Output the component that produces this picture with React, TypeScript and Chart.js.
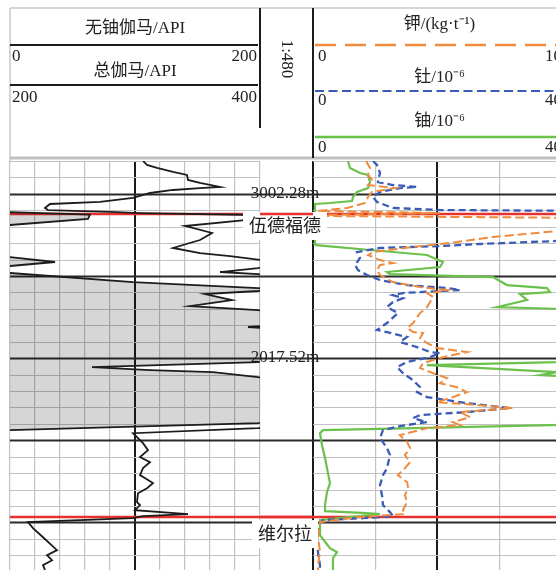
import React, { useEffect, useRef } from 'react';
import { Chart, registerables } from 'chart.js';

// ---------------- data (depth in m) ----------------
const depthTop = 2999.232; // 9840 ft
const depthBottom = 3037.17;
const gridStepM = 1.524; // 5 ft
const majorEvery = 5;
const majorPhase = 2;

const formationTops = [3004.15, 3032.26];
const formationNames = ['伍德福德', '维尔拉'];
const depthMarks = [3002.28, 3017.52];
const depthMarkLabels = ['3002.28m', '2017.52m'];

const grTicks = [0, 20, 40, 60, 80, 100, 120, 140, 160, 180, 200];
const grMajor = [100];
const chemTicks = [0, 2.5, 5, 7.5, 10];
const chemMajor = [0, 5];

// 无铀伽马 (0-200 API): [depth, value]
const uFreeGamma: [number, number][] = [
  [2999.23, 106.4], [2999.6, 109.6], [2999.88, 117.6], [3000.25, 130.4], [3000.53, 141.6], [3000.99, 142.4],
  [3001.27, 152], [3001.64, 168], [3001.74, 152], [3001.92, 130.4], [3002.2, 112], [3002.66, 98.4],
  [3003.03, 72], [3003.22, 32], [3003.59, 28], [3003.78, 30.4], [3003.96, 80], [3004.06, 104],
  [3004.24, 196], [3004.43, 212], [3004.61, 212], [3004.71, 188], [3005.26, 140], [3005.91, 161.6],
  [3006.56, 152], [3007.3, 130.4], [3007.77, 152], [3008.05, 176], [3008.42, 201.6], [3008.79, 212],
  [3009.16, 198.4], [3009.53, 168], [3009.72, 198.4], [3010.0, 212], [3023.82, 212], [3024.01, 198.4],
  [3024.48, 98.4], [3024.94, 102.4], [3025.4, 106.4], [3026.05, 110.4], [3026.7, 104], [3027.16, 112],
  [3027.72, 106.4], [3028.37, 104], [3029.11, 114.4], [3029.58, 109.6], [3030.05, 102.4], [3030.87, 101.6],
  [3031.15, 104], [3031.62, 100], [3031.98, 142.4], [3032.17, 106.4], [3032.36, 98.4], [3032.73, 14.4],
  [3033.29, 18.4], [3034.13, 26.4], [3035.33, 37.6], [3035.8, 29.6], [3036.26, 33.6], [3036.72, 26.4],
  [3037.17, 28],
];

// 总伽马 (200-400 API)
const totalGamma: [number, number][] = [
  [2999.23, 190], [3003.96, 196], [3004.2, 264], [3004.61, 262.4], [3005.17, 200], [3005.45, 192],
  [3008.05, 192], [3008.14, 200], [3008.6, 236], [3008.97, 200], [3009.25, 192], [3009.62, 200],
  [3010.46, 298.4], [3011.02, 398.4], [3011.11, 412], [3011.29, 398.4], [3011.58, 356], [3012.13, 377.6],
  [3012.69, 344], [3013.06, 398.4], [3013.25, 412], [3014.45, 412], [3014.63, 390.4], [3014.82, 412],
  [3017.7, 412], [3017.88, 398.4], [3018.35, 265.6], [3018.63, 312], [3018.81, 362.4], [3019.28, 398.4],
  [3019.46, 412], [3023.35, 412], [3023.55, 398.4], [3024.2, 200], [3024.38, 192], [3037.17, 192],
];

// 钾 (kg/t, 0-10)
const potassium: [number, number][] = [
  [2999.23, 2.13], [2999.88, 2.29], [3000.53, 2.21], [3000.99, 2.37], [3001.46, 2.21], [3001.74, 3.29],
  [3002.11, 2.37], [3002.57, 2.21], [3003.13, 2.09], [3003.59, 1.37], [3003.87, 0.2], [3004.06, 5.1],
  [3004.24, 0.2], [3004.33, 0.12], [3004.52, 11.5], [3005.63, 11.5], [3005.73, 9.8], [3006.28, 7.23],
  [3006.75, 5.78], [3007.21, 4.02], [3007.68, 2.41], [3007.95, 2.21], [3008.42, 2.69], [3008.7, 3.21],
  [3008.88, 2.69], [3009.35, 2.57], [3009.81, 2.69], [3010.46, 3.21], [3010.92, 4.3], [3011.2, 5.38],
  [3011.39, 4.98], [3011.48, 4.58], [3011.85, 4.82], [3012.78, 4.58], [3013.34, 4.3], [3014.26, 4.02],
  [3014.73, 3.78], [3015.1, 4.02], [3015.19, 4.42], [3015.66, 4.3], [3016.12, 4.58], [3016.58, 4.98],
  [3016.95, 6.18], [3017.23, 5.62], [3017.51, 5.1], [3017.98, 4.42], [3018.44, 4.3], [3018.91, 4.82],
  [3019.37, 5.38], [3019.84, 5.1], [3020.21, 5.78], [3020.67, 6.18], [3021.13, 5.62], [3021.6, 4.98],
  [3021.88, 6.71], [3022.15, 8.03], [3022.52, 5.9], [3022.99, 6.31], [3023.45, 5.62], [3023.73, 5.9],
  [3024.01, 4.58], [3024.66, 3.49], [3025.31, 3.78], [3025.86, 3.9], [3026.51, 3.69], [3027.16, 3.9],
  [3027.72, 3.69], [3028.37, 3.41], [3029.02, 3.78], [3029.58, 3.82], [3030.23, 3.69], [3030.87, 3.78],
  [3031.62, 3.61], [3031.98, 3.69], [3032.26, 1.89], [3032.73, 0.28], [3033.94, 0.2], [3035.52, 0.28],
  [3036.72, 0.2], [3037.17, 0.2],
];

// 钍 (10^-6, 0-40)
const thorium: [number, number][] = [
  [2999.23, 9.64], [2999.6, 10.28], [3000.34, 10.76], [3001.18, 10.44], [3001.46, 12.85], [3001.64, 16.71],
  [3001.74, 13.98], [3002.11, 10.76], [3002.57, 9.64], [3003.03, 10.28], [3003.59, 12.85], [3003.78, 20.4],
  [3003.87, 46], [3006.56, 46], [3006.65, 39.2], [3006.93, 26.83], [3007.12, 20.4], [3007.3, 10.76],
  [3007.68, 7.07], [3008.23, 7.55], [3008.88, 6.75], [3009.35, 7.23], [3009.81, 8.67], [3010.27, 10.76],
  [3010.74, 15.1], [3011.02, 21.53], [3011.2, 23.61], [3011.39, 17.19], [3011.48, 14.46], [3011.67, 12.85],
  [3011.95, 14.46], [3012.32, 12.85], [3012.78, 11.89], [3013.34, 13.65], [3014.26, 11.89], [3014.91, 10.28],
  [3015.1, 11.89], [3015.56, 15.1], [3016.03, 13.98], [3016.49, 16.71], [3016.95, 18.8], [3017.05, 20.4],
  [3017.42, 18.8], [3017.88, 15.1], [3018.35, 13.49], [3018.91, 14.46], [3019.56, 16.06], [3020.21, 17.19],
  [3020.67, 16.71], [3021.13, 18.31], [3021.69, 24.74], [3022.15, 31.65], [3022.52, 24.74], [3022.8, 17.19],
  [3023.08, 16.06], [3023.45, 18.31], [3023.82, 13.98], [3024.2, 11.24], [3024.94, 10.76], [3025.86, 11.89],
  [3026.51, 12.37], [3027.72, 11.89], [3028.37, 11.24], [3029.3, 10.76], [3030.23, 11.08], [3031.15, 11.24],
  [3031.8, 12.37], [3032.17, 12.85], [3032.36, 8.03], [3032.54, 1.61], [3033.01, 0.8], [3034.22, 0.64],
  [3035.52, 0.8], [3036.72, 1.12], [3037.17, 1.12],
];

// 铀 (10^-6, 0-40)
const uranium: [number, number][] = [
  [2999.23, 5.62], [2999.88, 5.94], [3000.34, 7.55], [3000.53, 8.84], [3001.18, 9.16], [3001.74, 8.84],
  [3002.11, 7.07], [3002.57, 6.43], [3002.94, 6.27], [3003.13, 2.73], [3003.22, 0.32], [3006.93, 0.32],
  [3007.03, 0.48], [3007.49, 9.16], [3007.95, 18.31], [3008.6, 20.88], [3009.07, 20.4], [3009.53, 11.89],
  [3009.72, 12.37], [3010.0, 28.92], [3010.74, 31.16], [3011.02, 37.59], [3011.39, 38.07], [3011.58, 33.25],
  [3012.13, 34.38], [3012.78, 29.56], [3012.97, 40.48], [3013.06, 46], [3017.7, 46], [3017.88, 39.2],
  [3018.16, 18.31], [3018.81, 39.2], [3019.09, 36.47], [3019.37, 46], [3023.64, 46], [3024.2, 1.61],
  [3024.48, 1.12], [3025.59, 1.45], [3026.79, 1.93], [3027.72, 2.25], [3029.11, 2.73], [3029.95, 2.25],
  [3031.15, 1.93], [3031.71, 1.93], [3031.89, 8.67], [3031.98, 10.76], [3032.54, 1.12], [3033.94, 1.12],
  [3035.15, 2.73], [3035.52, 3.86], [3036.07, 3.21], [3036.99, 3.21], [3037.17, 3.2],
];

// ---------------- layout & style ----------------
const LEFT_W = 250;
const GAP_W = 53;
const RIGHT_W = 249;
const TOTAL_W = LEFT_W + GAP_W + RIGHT_W;
const LEFT_TRACK: [number, number] = [0, LEFT_W / TOTAL_W];
const RIGHT_TRACK: [number, number] = [(LEFT_W + GAP_W) / TOTAL_W, 1];

const axisRanges: Record<string, [number, number]> = {
  xP: [0, 200],
  xQ: [200, 400],
  xK: [0, 10],
  xTh: [0, 40],
  xU: [0, 40],
};

const ORANGE = '#f08b3e';
const BLUE = '#3b5cb6';
const GREEN = '#6cc04c';
const RED = '#e8302c';
const INK = '#1c1c1c';
const GRID = '#c2c2c2';
const FONT = '"Liberation Serif", "Noto Sans CJK SC", serif';

const CANVAS_W = 566;
const CANVAS_H = 570;

function trackAxis(track: [number, number], range: [number, number], gridTicks?: number[], majors?: number[]) {
  const [lo, hi] = range;
  const span = (hi - lo) / (track[1] - track[0]);
  const min = lo - track[0] * span;
  const max = min + span;
  const isMajor = (c: any) => !!majors && c && c.tick && majors.includes(c.tick.value);
  return {
    type: 'linear',
    position: 'bottom',
    min,
    max,
    bounds: 'data',
    display: !!gridTicks,
    afterBuildTicks: (scale: any) => {
      if (gridTicks) scale.ticks = gridTicks.map((v) => ({ value: v }));
    },
    ticks: { display: false },
    border: { display: false },
    grid: {
      drawTicks: false,
      color: (c: any) => (isMajor(c) ? INK : GRID),
      lineWidth: (c: any) => (isMajor(c) ? 2 : 1.2),
    },
  };
}

const toXY = (arr: [number, number][]) => arr.map(([d, v]) => ({ x: v, y: d }));

// Clip every dataset to its own track (registered before the filler so fills are clipped too)
const trackClip = {
  id: 'trackClip',
  beforeDatasetDraw(chart: any, args: any) {
    const xs = args.meta.xScale;
    const rng = axisRanges[xs.id];
    if (!rng) return;
    const a = xs.getPixelForValue(rng[0]);
    const b = xs.getPixelForValue(rng[1]);
    const { top, bottom } = chart.chartArea;
    chart.ctx.save();
    chart.ctx.beginPath();
    chart.ctx.rect(a, top, b - a, bottom - top);
    chart.ctx.clip();
  },
  afterDatasetDraw(chart: any) {
    chart.ctx.restore();
  },
};

Chart.register(trackClip);
Chart.register(...registerables);

function hline(ctx: CanvasRenderingContext2D, x0: number, x1: number, y: number, color: string, w: number, dash: number[] = []) {
  ctx.save();
  ctx.strokeStyle = color;
  ctx.lineWidth = w;
  ctx.setLineDash(dash);
  ctx.beginPath();
  ctx.moveTo(x0, y);
  ctx.lineTo(x1, y);
  ctx.stroke();
  ctx.restore();
}
function vline(ctx: CanvasRenderingContext2D, x: number, y0: number, y1: number, color: string, w: number) {
  ctx.save();
  ctx.strokeStyle = color;
  ctx.lineWidth = w;
  ctx.beginPath();
  ctx.moveTo(x, y0);
  ctx.lineTo(x, y1);
  ctx.stroke();
  ctx.restore();
}
function text(ctx: CanvasRenderingContext2D, s: string, x: number, y: number, align: CanvasTextAlign, size = 17) {
  ctx.save();
  ctx.font = `${size}px ${FONT}`;
  ctx.fillStyle = '#222';
  ctx.textAlign = align;
  ctx.textBaseline = 'middle';
  ctx.fillText(s, x, y);
  ctx.restore();
}

function trackEdges(chart: any) {
  const xP = chart.scales.xP;
  const xK = chart.scales.xK;
  return {
    l0: xP.getPixelForValue(axisRanges.xP[0]),
    l1: xP.getPixelForValue(axisRanges.xP[1]),
    r0: xK.getPixelForValue(axisRanges.xK[0]),
    r1: xK.getPixelForValue(axisRanges.xK[1]),
  };
}

const labelOffsets = [13, 18];

const decorations = {
  id: 'decorations',
  beforeDatasetsDraw(chart: any) {
    const { ctx, chartArea, scales } = chart;
    const y = scales.y;
    const { l0, l1, r0, r1 } = trackEdges(chart);
    for (let k = 0; ; k++) {
      const d = depthTop + k * gridStepM;
      if (d > depthBottom + 1e-6) break;
      const py = Math.round(y.getPixelForValue(d)) + 0.5;
      if ((k - majorPhase) % majorEvery === 0) {
        hline(ctx, chartArea.left, chartArea.right, py, '#2a2a2a', 1.8);
      } else {
        hline(ctx, l0, l1, py, GRID, 1.2);
        hline(ctx, r0, r1, py, GRID, 1.2);
      }
    }
    formationTops.forEach((d) => {
      hline(ctx, chartArea.left, chartArea.right, y.getPixelForValue(d), RED, 2.5);
    });
  },
  afterDatasetsDraw(chart: any) {
    const { ctx, scales } = chart;
    const y = scales.y;
    const { l1, r0 } = trackEdges(chart);
    const dc = (l1 + r0) / 2 - 1.5;
    ctx.save();
    formationNames.forEach((name, i) => {
      const py = y.getPixelForValue(formationTops[i]);
      const ty = py + labelOffsets[i];
      ctx.font = `18px ${FONT}`;
      const w = ctx.measureText(name).width;
      ctx.fillStyle = '#fff';
      ctx.fillRect(dc - w / 2 - 6, ty - 15, w + 12, 28);
      hline(ctx, l1, r0, py, RED, 2.5);
      text(ctx, name, dc, ty, 'center', 18);
    });
    depthMarks.forEach((d, i) => {
      const py = y.getPixelForValue(d);
      ctx.save();
      ctx.font = `17px ${FONT}`;
      ctx.fillStyle = '#222';
      ctx.textAlign = 'center';
      ctx.textBaseline = 'alphabetic';
      ctx.fillText(depthMarkLabels[i], dc, py + 4);
      ctx.restore();
    });
    ctx.restore();
  },
  afterDraw(chart: any) {
    const { ctx, chartArea } = chart;
    const { l0, l1, r0, r1 } = trackEdges(chart);
    const top = 8;
    const headBottom = 158;
    const farRight = CANVAS_W;
    // frame
    hline(ctx, l0, farRight, top, '#c8c8c8', 1.5);
    vline(ctx, l0, top, chartArea.top, '#c8c8c8', 1.5);
    hline(ctx, l0, farRight, headBottom, '#bfbfbf', 3);
    // left (gamma) header
    hline(ctx, l0, l1 - 2, 45, INK, 2);
    hline(ctx, l0, l1 - 2, 85, INK, 2);
    vline(ctx, l1, top, 128, INK, 2);
    vline(ctx, r0, top, headBottom, INK, 2);
    const lc = (l0 + l1) / 2;
    text(ctx, '无铀伽马/API', lc, 29, 'center');
    text(ctx, String(axisRanges.xP[0]), l0 + 2, 57, 'left');
    text(ctx, String(axisRanges.xP[1]), l1 - 3, 57, 'right');
    text(ctx, '总伽马/API', lc, 72, 'center');
    text(ctx, String(axisRanges.xQ[0]), l0 + 2, 98, 'left');
    text(ctx, String(axisRanges.xQ[1]), l1 - 3, 98, 'right');
    // scale
    ctx.save();
    ctx.translate((l1 + r0) / 2 - 0.5, 59);
    ctx.rotate(Math.PI / 2);
    ctx.font = `17px ${FONT}`;
    ctx.fillStyle = '#222';
    ctx.textAlign = 'center';
    ctx.textBaseline = 'middle';
    ctx.fillText('1:480', 0, 0);
    ctx.restore();
    // right (spectral) header
    const rc = (r0 + r1) / 2 + 2;
    text(ctx, '钾/(kg·t⁻¹)', rc, 25, 'center');
    hline(ctx, r0 + 2, farRight, 45, ORANGE, 2.5, [21, 9]);
    text(ctx, String(axisRanges.xK[0]), r0 + 5, 57, 'left');
    text(ctx, String(axisRanges.xK[1]), r1, 57, 'right');
    text(ctx, '钍/10⁻⁶', rc, 78, 'center');
    hline(ctx, r0 + 2, farRight, 91, BLUE, 2, [9, 4.5]);
    text(ctx, String(axisRanges.xTh[0]), r0 + 5, 101, 'left');
    text(ctx, String(axisRanges.xTh[1]), r1, 101, 'right');
    text(ctx, '铀/10⁻⁶', rc, 122, 'center');
    hline(ctx, r0 + 2, farRight, 137, GREEN, 2.5);
    text(ctx, String(axisRanges.xU[0]), r0 + 5, 148, 'left');
    text(ctx, String(axisRanges.xU[1]), r1, 148, 'right');
  },
};

export default function App() {
  const ref = useRef<HTMLCanvasElement>(null);
  useEffect(() => {
    if (!ref.current) return;
    const chart = new Chart(ref.current, {
      type: 'line',
      data: {
        datasets: [
          {
            label: '无铀伽马',
            data: toXY(uFreeGamma),
            xAxisID: 'xP',
            yAxisID: 'y',
            borderColor: INK,
            borderWidth: 1.8,
            fill: false,
          },
          {
            label: '钾',
            data: toXY(potassium),
            xAxisID: 'xK',
            yAxisID: 'y',
            borderColor: ORANGE,
            borderWidth: 2,
            borderDash: [9, 4],
            fill: false,
          },
          {
            label: '钍',
            data: toXY(thorium),
            xAxisID: 'xTh',
            yAxisID: 'y',
            borderColor: BLUE,
            borderWidth: 2.3,
            borderDash: [7, 4],
            fill: false,
          },
          {
            label: '铀',
            data: toXY(uranium),
            xAxisID: 'xU',
            yAxisID: 'y',
            borderColor: GREEN,
            borderWidth: 2.2,
            fill: false,
          },
          {
            label: '总伽马',
            data: toXY(totalGamma),
            xAxisID: 'xQ',
            yAxisID: 'y',
            borderColor: INK,
            borderWidth: 1.8,
            backgroundColor: 'rgba(0,0,0,0.16)',
            fill: { value: axisRanges.xQ[0] },
          },
        ] as any,
      },
      options: {
        indexAxis: 'y',
        responsive: false,
        maintainAspectRatio: false,
        animation: false,
        events: [],
        layout: { padding: { left: 10, right: 4, top: 161, bottom: 0 } },
        elements: { point: { radius: 0 }, line: { tension: 0 } },
        plugins: {
          legend: { display: false },
          tooltip: { enabled: false },
          title: { display: false },
        },
        scales: {
          y: {
            type: 'linear',
            reverse: true,
            min: depthTop,
            max: depthBottom,
            bounds: 'data',
            display: false,
          },
          xP: trackAxis(LEFT_TRACK, axisRanges.xP, grTicks, grMajor),
          xQ: trackAxis(LEFT_TRACK, axisRanges.xQ),
          xK: trackAxis(RIGHT_TRACK, axisRanges.xK, chemTicks, chemMajor),
          xTh: trackAxis(RIGHT_TRACK, axisRanges.xTh),
          xU: trackAxis(RIGHT_TRACK, axisRanges.xU),
        } as any,
      },
      plugins: [decorations],
    } as any);
    return () => chart.destroy();
  }, []);
  return (
    <div
      style={{
        position: 'fixed',
        left: 0,
        top: 0,
        width: 556,
        height: 570,
        overflow: 'hidden',
        background: '#fff',
      }}
    >
      <canvas ref={ref} width={CANVAS_W} height={CANVAS_H} style={{ display: 'block', width: CANVAS_W, height: CANVAS_H }} />
    </div>
  );
}
